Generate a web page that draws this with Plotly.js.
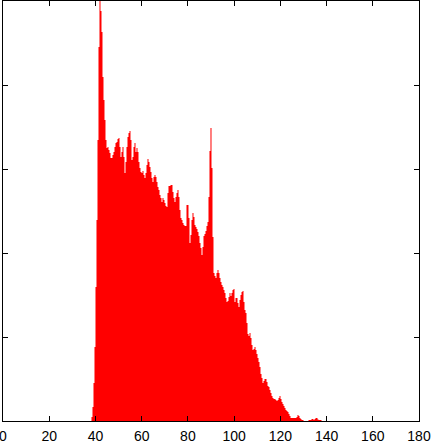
<!DOCTYPE html>
<html>
<head>
<meta charset="utf-8">
<script src="https://cdn.plot.ly/plotly-3.0.1.min.js"></script>
<style>html,body{margin:0;padding:0;background:#fff;}#chart{width:432px;height:445px;}</style>
</head>
<body>
<div id="chart"></div>
<script>
// Histogram: first bin left edge, bin width (data units), and counts per bin
const binStart = 38.29;
const binWidth = 0.4327;
const counts = [
  4, 14, 38, 74, 134, 201, 281, 374,
  430, 410, 389, 344, 321, 301, 281, 273, 274, 271,
  268, 263, 263, 266, 269, 274, 278, 279, 282, 283,
  274, 264, 269, 274, 264, 248, 259, 274, 284, 288,
  290, 281, 261, 264, 274, 278, 269, 273, 269, 259,
  253, 249, 248, 250, 246, 243, 248, 256, 262, 259,
  254, 249, 243, 239, 244, 246, 244, 239, 234, 231,
  226, 223, 219, 223, 221, 218, 215, 214, 228, 235,
  235, 236, 236, 229, 223, 219, 224, 228, 231, 224,
  211, 203, 201, 198, 196, 195, 195, 216, 216, 203,
  178, 186, 201, 208, 204, 196, 194, 192, 189, 185,
  178, 173, 166, 174, 185, 187, 190, 195, 199, 224,
  270, 293, 253, 184, 148, 145, 143, 148, 151, 148,
  143, 139, 136, 134, 131, 128, 123, 119, 120, 124,
  128, 125, 128, 131, 132, 119, 123, 123, 118, 114,
  121, 126, 129, 130, 119, 111, 108, 98, 87, 85,
  88, 83, 76, 71, 72, 74, 71, 67, 63, 59,
  54, 47, 43, 38, 40, 42, 42, 39, 35, 34,
  31, 28, 25, 23, 22, 22, 21, 20, 21, 23,
  25, 22, 19, 17, 15, 13, 11, 10, 9, 7,
  5, 3, 3, 3, 3, 3, 3, 4, 6, 5,
  3, 2, 1, 1, 0, 0, 0, 0, 0, 1,
  1, 1, 2, 2, 1, 2, 3, 3, 1.5, 1, 1, 1
];
const xTicks = [0, 20, 40, 60, 80, 100, 120, 140, 160, 180];
const xRange = [0, 180];
const yRange = [0, 420];
const yTickStep = 84;

// step outline from bin edges
const xs = [], ys = [];
for (let i = 0; i < counts.length; i++) {
  xs.push(binStart + i * binWidth);
  ys.push(counts[i]);
}
xs.push(binStart + counts.length * binWidth);
ys.push(counts[counts.length - 1]);

const trace = {
  type: 'scatter', mode: 'lines', x: xs, y: ys,
  line: {shape: 'hv', width: 0, color: '#ff0000'},
  fill: 'tozeroy', fillcolor: '#ff0000', hoverinfo: 'skip'
};

const axisCommon = {
  showline: true, linecolor: '#000', linewidth: 1, mirror: 'ticks',
  ticks: 'inside', ticklen: 5, tickwidth: 1, tickcolor: '#000',
  showgrid: false, zeroline: false
};

const layout = {
  width: 432, height: 445,
  margin: {l: 3, r: 13, t: 1, b: 24},
  paper_bgcolor: '#fff', plot_bgcolor: '#fff',
  showlegend: false,
  font: {family: '"Liberation Sans", Arial, sans-serif', size: 14, color: '#000'},
  xaxis: Object.assign({}, axisCommon, {
    range: xRange, tickmode: 'array', tickvals: xTicks, ticktext: xTicks.map(String),
    ticklabeloverflow: 'allow', ticklabelstandoff: 2
  }),
  yaxis: Object.assign({}, axisCommon, {
    range: yRange, dtick: yTickStep, tick0: 0, showticklabels: false
  })
};

Plotly.newPlot('chart', [trace], layout, {staticPlot: true, displayModeBar: false});
</script>
</body>
</html>
